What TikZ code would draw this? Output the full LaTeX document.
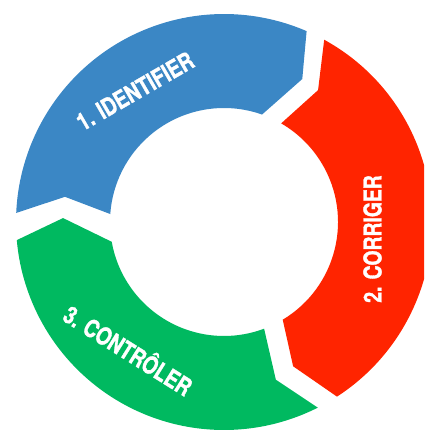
\documentclass[tikz,border=0pt]{standalone}
\usepackage{fontspec}
\newfontfamily\lblfont[FakeStretch=0.79,BoldFeatures={FakeBold=1.3}]{TeX Gyre Heros}
\definecolor{cBlue}{RGB}{59,135,197}
\definecolor{cRed}{RGB}{255,36,0}
\definecolor{cGreen}{RGB}{0,185,96}
\begin{document}
\begin{tikzpicture}[x=1pt,y=1pt,
  lbl/.style={text=white, inner sep=0pt,
    font=\lblfont\bfseries\fontsize{24.5}{24.5}\selectfont}]
\useasboundingbox (0,0) rectangle (424,431);
\clip (0,0) rectangle (424,431);
% ring of three chevron arcs around the centre
\begin{scope}[shift={(224,209)}]
  % 1. identifier (top left)
  \fill[cBlue] (177.5:208pt) arc[start angle=177.5, end angle=66.6, radius=208pt]
    -- (61.3:163pt) -- (70.5:114pt)
    arc[start angle=70.5, end angle=176, radius=114pt]
    -- (171:161pt) -- cycle;
  % 2. corriger (right)
  \fill[cRed] (61.2:208pt) arc[start angle=61.2, end angle=-57.1, radius=208pt]
    -- (-64.4:160pt) -- (-59:114pt)
    arc[start angle=-59, end angle=59.9, radius=114pt]
    -- (54.5:162pt) -- cycle;
  % 3. controler (bottom left)
  \fill[cGreen] (-63.2:208pt) arc[start angle=-63.2, end angle=-175, radius=208pt]
    -- (-181.4:161pt) -- (-170:114pt)
    arc[start angle=-170, end angle=-69.4, radius=114pt]
    -- (-71.8:166pt) -- cycle;
\end{scope}
\node[lbl, rotate=30] (identifier) at (135,340) {1. IDENTIFIER};
\node[lbl, rotate=90] (corriger) at (372.5,192) {2. CORRIGER};
\node[lbl, rotate=-32] (controler) at (129,82) {3. CONTRÔLER};
\end{tikzpicture}
\end{document}
